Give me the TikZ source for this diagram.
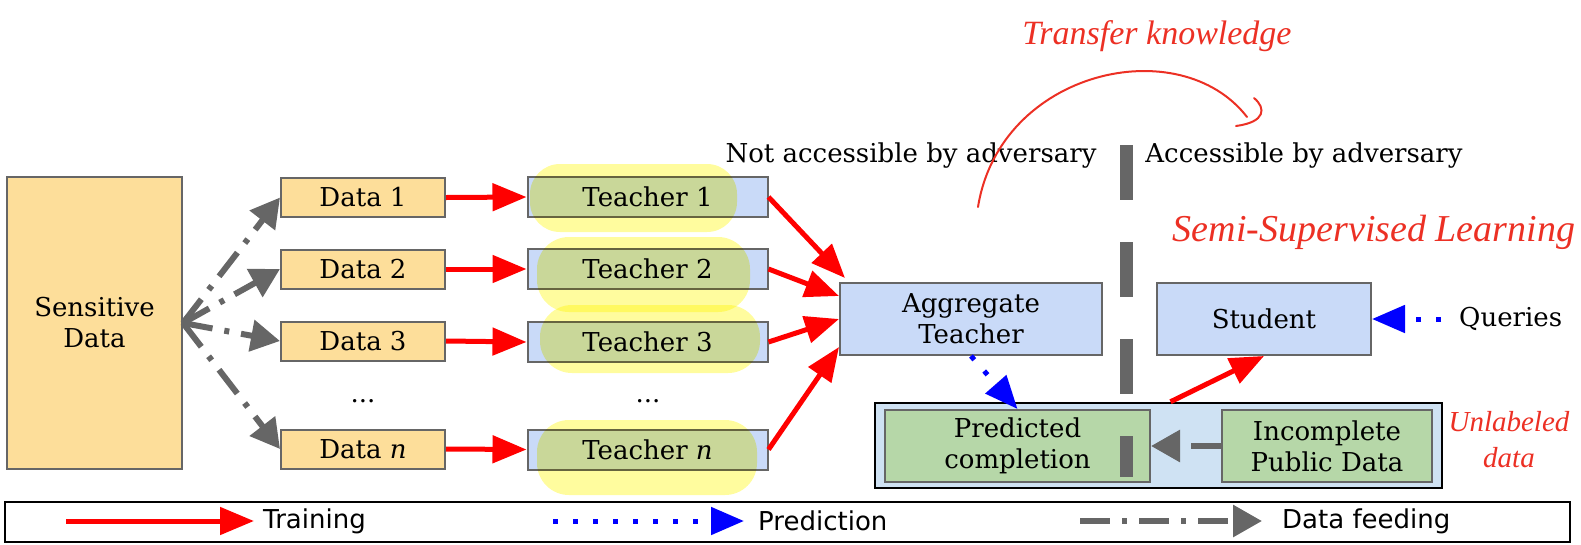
\documentclass[tikz,border=0pt]{standalone}
\usepackage{fontspec}
\setmainfont{DejaVu Serif}
\newfontfamily\legendfont{DejaVu Sans}
\newfontfamily\handfont{Liberation Serif}
\usetikzlibrary{arrows.meta}
\definecolor{dataorange}{RGB}{253,222,154}
\definecolor{teachblue}{RGB}{201,218,248}
\definecolor{pubgreen}{RGB}{182,215,168}
\definecolor{poolblue}{RGB}{207,226,243}
\definecolor{boxline}{RGB}{102,102,102}
\definecolor{feedgray}{RGB}{102,102,102}
\definecolor{handred}{RGB}{236,48,36}
\definecolor{marker}{RGB}{255,252,158}
\newcommand{\mainsize}{\fontsize{26}{31}\selectfont}
\tikzset{
  box/.style={draw=boxline, line width=2pt, inner sep=0pt, font=\mainsize, align=center},
  databox/.style={box, fill=dataorange, minimum width=164pt, minimum height=39pt},
  teachbox/.style={box, fill=teachblue, minimum width=240pt, minimum height=40pt},
  bigbox/.style={box, fill=teachblue, minimum height=72pt},
  pubbox/.style={box, fill=pubgreen, minimum height=72pt},
  train/.style={draw=red, line width=5pt, -{Triangle[length=34pt,width=27pt]}},
  predict/.style={draw=blue, line width=5pt, dash pattern=on 5pt off 15pt, -{Triangle[length=33pt,width=27pt]}},
  feed/.style={draw=feedgray, line width=6pt, dash pattern=on 30pt off 12pt on 5pt off 12pt, -{Triangle[length=29pt,width=31pt]}},
  hand/.style={text=handred, font=\handfont\itshape},
  penline/.style={draw=handred, line width=2pt, line cap=round}
}
\begin{document}
\begin{tikzpicture}[x=1pt,y=-1pt]
\useasboundingbox (0,0) rectangle (1581,544);
\node[box, fill=dataorange, minimum width=175pt, minimum height=292pt] (sens) at (94.5,323) {Sensitive\\Data};
\node[databox] (data1) at (363,197.5) {Data 1};
\node[databox] (data2) at (363,269) {Data 2};
\node[databox] (data3) at (363,341) {Data 3};
\node[font=\mainsize] (dotsd) at (363,401) {...};
\node[databox] (datan) at (363,449) {Data \emph{n}};
\node[teachbox] (teach1) at (647.5,197) {Teacher 1};
\node[teachbox] (teach2) at (647.5,269) {Teacher 2};
\node[teachbox] (teach3) at (647.5,342) {Teacher 3};
\node[font=\mainsize] (dotst) at (648,401) {...};
\node[teachbox] (teachn) at (647.5,449.5) {Teacher \emph{n}};
\node[bigbox, minimum width=262pt] (agg) at (971,319) {Aggregate\\Teacher};
\node[bigbox, minimum width=214pt] (stud) at (1264,319) {Student};
\node[font=\mainsize, anchor=west, inner sep=0pt] (query) at (1459,319) {Queries};
\node[box, draw=black, line width=2.5pt, fill=poolblue, minimum width=567pt, minimum height=85pt] (pool) at (1158.5,445.5) {};
\node[pubbox, minimum width=265pt] (pred) at (1017.5,446) {Predicted\\completion};
\node[pubbox, minimum width=210pt] (incomp) at (1327,446) {Incomplete\\Public Data};
\node[font=\mainsize] (notacc) at (911,156) {Not accessible by adversary};
\node[font=\mainsize] (acc) at (1304,156) {Accessible by adversary};

\draw[feed] (sens.east) -- (data1.west);
\draw[feed] (sens.east) -- (data2.west);
\draw[feed] (sens.east) -- (data3.west);
\draw[feed] (sens.east) -- (datan.west);
\draw[train] (data1.east) -- (teach1.west);
\draw[train] (data2.east) -- (teach2.west);
\draw[train] (data3.east) -- (teach3.west);
\draw[train] (datan.east) -- (teachn.west);
\draw[train] (teach1.east) -- ([xshift=6pt,yshift=4pt]agg.north west);
\draw[train] (teach2.east) -- ([yshift=23pt]agg.west);
\draw[train] (teach3.east) -- (agg.west);
\draw[train] (teachn.east) -- ([yshift=-28pt]agg.west);
\draw[predict] (agg.south) -- (pred.north);
\draw[predict] ([xshift=-18pt]query.west) -- (stud.east);
\draw[train] ([xshift=12pt]pool.north) -- (stud.south);
\draw[feed] (incomp.west) -- (pred.east);

\draw[draw=feedgray, line width=13pt, dash pattern=on 55pt off 42pt] (1126,145) -- (1126,477);

\begin{scope}[blend mode=multiply]
\fill[marker, rounded corners=30pt] (530,164) rectangle (737,232);
\fill[marker, rounded corners=32pt] (537,237) rectangle (750,312);
\fill[marker, rounded corners=32pt] (540,305) rectangle (760,373);
\fill[marker, rounded corners=32pt] (537,420) rectangle (757,495);
\end{scope}

\node[hand, font=\handfont\itshape\fontsize{34}{38}\selectfont] (transfer) at (1157,36) {Transfer knowledge};
\draw[penline] (978,207) .. controls (1000,70) and (1180,30) .. (1247,117);
\draw[penline] (1254,98) .. controls (1266,108) and (1266,122) .. (1236,126);
\node[hand, font=\handfont\itshape\fontsize{38}{42}\selectfont] (semi) at (1374,232) {Semi-Supervised Learning};
\node[hand, font=\handfont\itshape\fontsize{29}{36}\selectfont, align=center] (unlab) at (1509,440) {Unlabeled\\data};

\node[draw=black, line width=2.5pt, minimum width=1565pt, minimum height=40pt, inner sep=0pt] (legend) at (787.5,522) {};
\coordinate (trainA) at (66,521);
\coordinate (trainB) at (254,521);
\coordinate (predA) at (553,521);
\coordinate (predB) at (744,521);
\coordinate (feedA) at (1080,521);
\coordinate (feedB) at (1262,521);
\draw[train] (trainA) -- (trainB);
\draw[predict] (predA) -- (predB);
\draw[feed] (feedA) -- (feedB);
\node[font=\legendfont\fontsize{26}{30}\selectfont, anchor=west, inner sep=0pt] (trainlab) at (263,521) {Training};
\node[font=\legendfont\fontsize{26}{30}\selectfont, anchor=west, inner sep=0pt] (predlab) at (758,521) {Prediction};
\node[font=\legendfont\fontsize{26}{30}\selectfont, anchor=west, inner sep=0pt] (feedlab) at (1282,521) {Data feeding};
\end{tikzpicture}
\end{document}
